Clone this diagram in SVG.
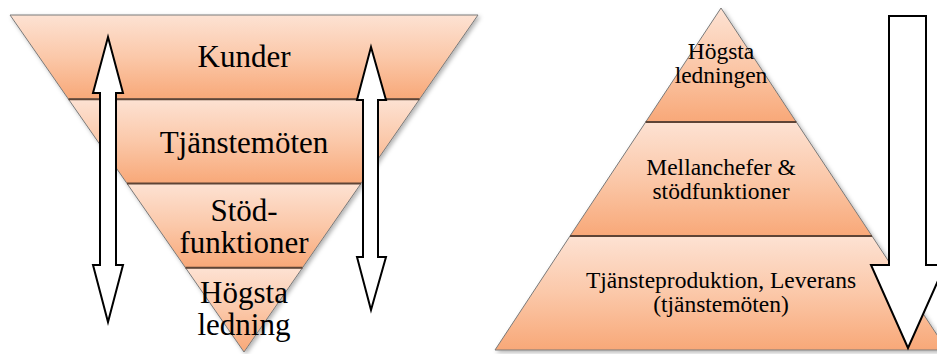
<svg xmlns="http://www.w3.org/2000/svg" width="937" height="354" viewBox="0 0 937 354">
  <defs>
    <linearGradient id="band" x1="0" y1="0" x2="0" y2="1">
      <stop offset="0" stop-color="#fde2d3"/>
      <stop offset="0.5" stop-color="#fbc8a9"/>
      <stop offset="1" stop-color="#f8a878"/>
    </linearGradient>
    <filter id="shadow" x="-10%" y="-10%" width="130%" height="130%">
      <feDropShadow dx="2" dy="2" stdDeviation="2" flood-color="#000" flood-opacity="0.3"/>
    </filter>
  </defs>
  <style>
    .band { fill: url(#band); stroke: #7a7a7a; stroke-width: 1; }
    .sep { stroke: #5e4436; stroke-width: 2; fill: none; }
    text { font-family: 'Liberation Serif', 'DejaVu Serif', serif; fill: #000; text-anchor: middle; }
    .big { font-size: 31px; }
    .small { font-size: 23.5px; }
    .arrow { fill: #fff; stroke: #000; stroke-width: 2; stroke-linejoin: miter; }
  </style>
  <rect width="937" height="354" fill="#fff"/>

  <!-- Left inverted triangle -->
  <g filter="url(#shadow)">
    <g id="kunder">
      <polygon class="band" points="10,15 478,15 419.5,99.25 68.5,99.25"/>
    </g>
    <g id="tjanstemoten">
      <polygon class="band" points="68.5,99.25 419.5,99.25 361,183.5 127,183.5"/>
    </g>
    <g id="stodfunktioner">
      <polygon class="band" points="127,183.5 361,183.5 302.5,267.75 185.5,267.75"/>
    </g>
    <g id="hogsta-ledning">
      <polygon class="band" points="185.5,267.75 302.5,267.75 244,352"/>
    </g>
  </g>
  <line class="sep" x1="68.5" y1="99.25" x2="419.5" y2="99.25"/>
  <line class="sep" x1="127" y1="183.5" x2="361" y2="183.5"/>
  <line class="sep" x1="185.5" y1="267.75" x2="302.5" y2="267.75"/>

  <!-- Right pyramid -->
  <g filter="url(#shadow)">
    <g id="hogsta-ledningen">
      <polygon class="band" points="721,8 796.3,122 645.7,122"/>
    </g>
    <g id="mellanchefer">
      <polygon class="band" points="645.7,122 796.3,122 872,236 570,236"/>
    </g>
    <g id="tjansteproduktion">
      <polygon class="band" points="570,236 872,236 947,350 495,350"/>
    </g>
  </g>
  <line class="sep" x1="645.7" y1="122" x2="796.3" y2="122"/>
  <line class="sep" x1="570" y1="236" x2="872" y2="236"/>

  <!-- Connectors / arrows -->
  <g id="connectors">
    <polygon class="arrow" points="108,37 123,93 116,93 116,265 123,265 108,322 93,265 100,265 100,93 93,93"/>
    <polygon class="arrow" points="371,47 386,100 378,100 378,257 386,257 371,310 357,257 363,257 363,100 357,100"/>
    <polygon class="arrow" points="889,16 926,16 926,265 945,265 908,348 871,265 889,265"/>
  </g>

  <!-- Labels -->
  <g id="labels">
    <text class="big" x="244" y="67">Kunder</text>
    <text class="big" x="244" y="152.5">Tjänstemöten</text>
    <text class="big" x="244" y="221">Stöd-</text>
    <text class="big" x="244" y="253">funktioner</text>
    <text class="big" x="244" y="303">Högsta</text>
    <text class="big" x="244" y="335">ledning</text>
    <text class="small" x="721" y="59">Högsta</text>
    <text class="small" x="721" y="83">ledningen</text>
    <text class="small" x="721" y="175">Mellanchefer &amp;</text>
    <text class="small" x="721" y="199">stödfunktioner</text>
    <text class="small" x="721" y="288">Tjänsteproduktion, Leverans</text>
    <text class="small" x="721" y="312">(tjänstemöten)</text>
  </g>
</svg>
